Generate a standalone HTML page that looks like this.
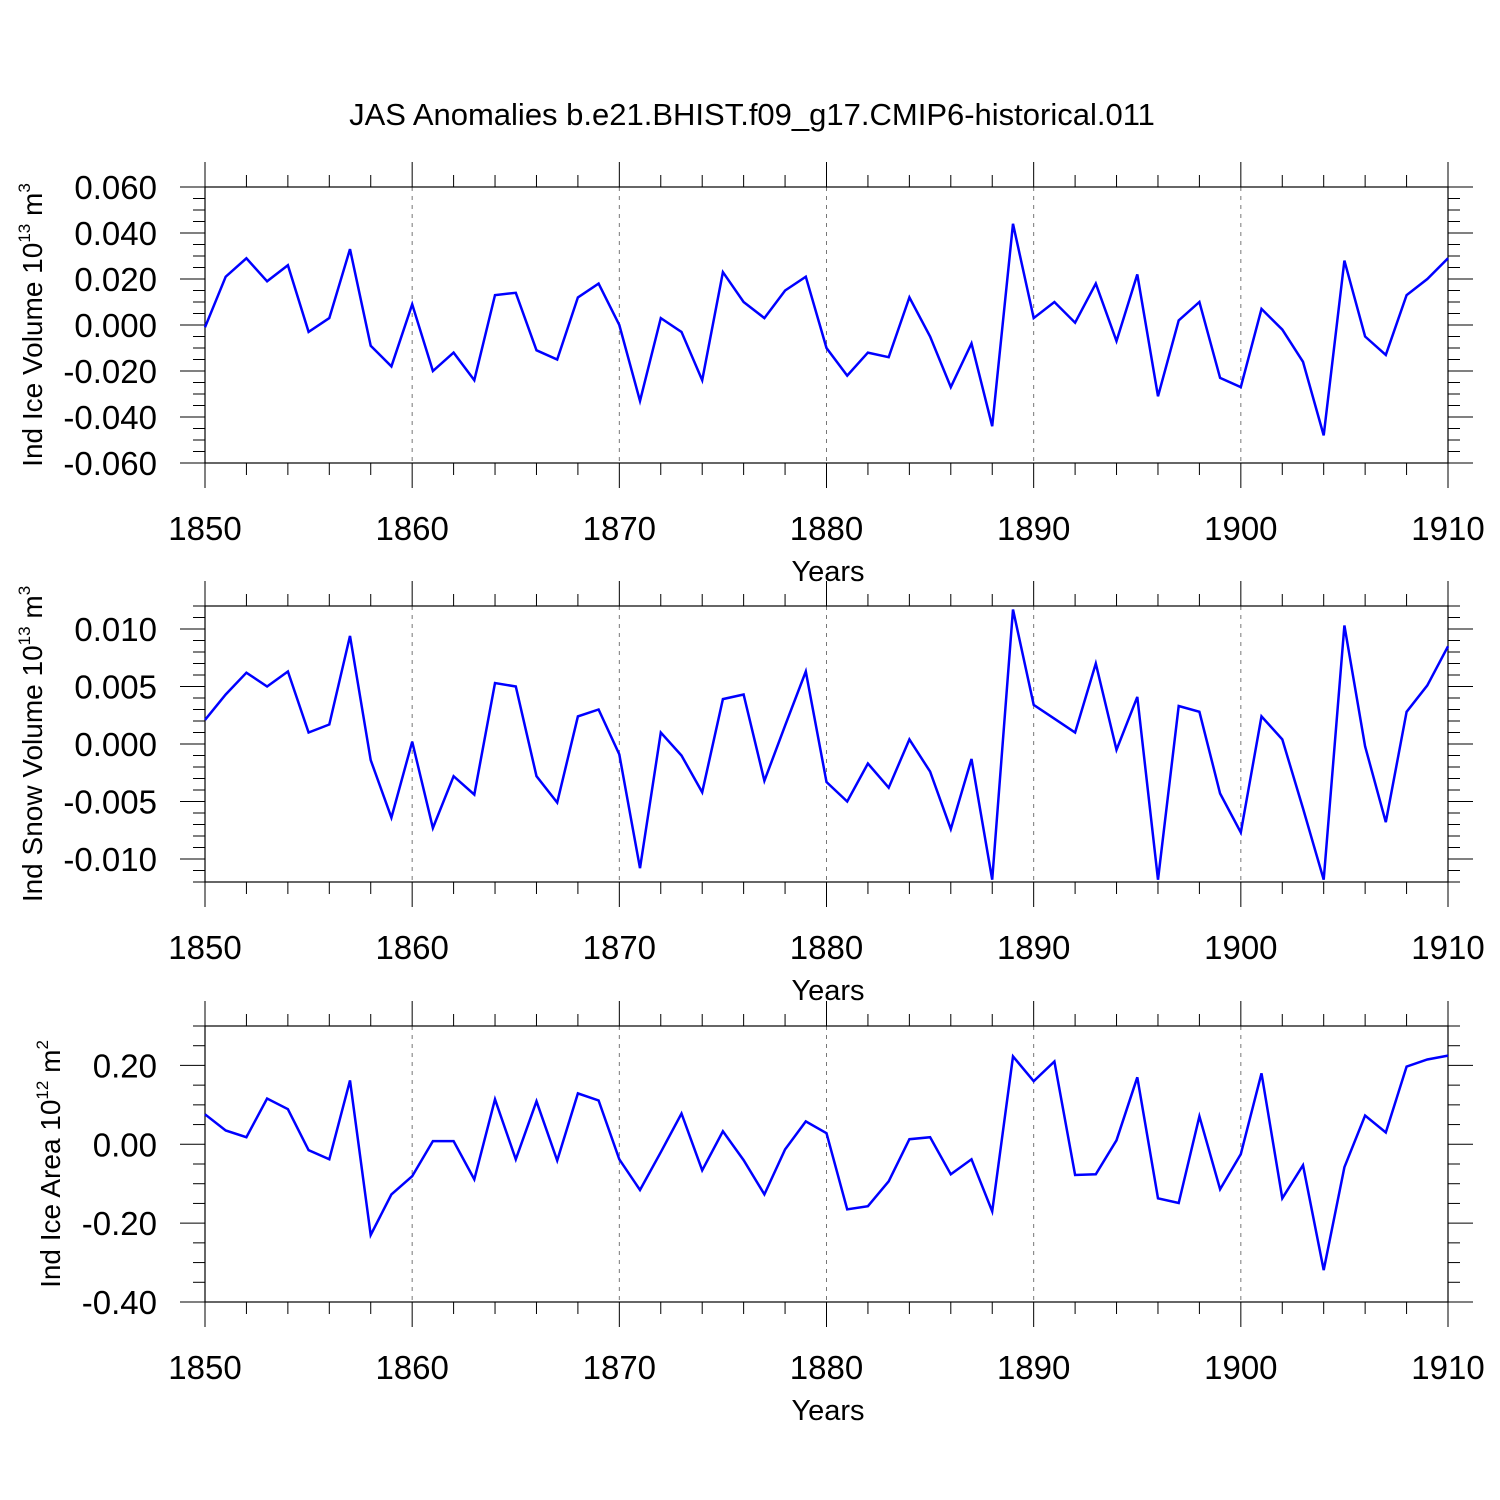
<!DOCTYPE html>
<html><head><meta charset="utf-8"><style>
html,body{margin:0;padding:0;background:#fff;}
svg{display:block;font-family:"Liberation Sans",sans-serif;}
</style></head><body>
<svg id="chart" width="1500" height="1500" viewBox="0 0 1500 1500" xmlns="http://www.w3.org/2000/svg">
<rect width="1500" height="1500" fill="#fff"/>
<text x="752" y="125" font-size="31" text-anchor="middle">JAS Anomalies b.e21.BHIST.f09_g17.CMIP6-historical.011</text>
</svg>
<script>
const years = [];
for (let y = 1850; y <= 1910; y++) years.push(y);
const iceVolume = [-0.001,0.021,0.029,0.019,0.026,-0.003,0.003,0.033,-0.009,-0.018,0.009,-0.020,-0.012,-0.024,0.013,0.014,-0.011,-0.015,0.012,0.018,0.000,-0.033,0.003,-0.003,-0.024,0.023,0.010,0.003,0.015,0.021,-0.010,-0.022,-0.012,-0.014,0.012,-0.005,-0.027,-0.008,-0.044,0.044,0.003,0.010,0.001,0.018,-0.007,0.022,-0.031,0.002,0.010,-0.023,-0.027,0.007,-0.002,-0.016,-0.048,0.028,-0.005,-0.013,0.013,0.020,0.029];
const snowVolume = [0.0021,0.0043,0.0062,0.0050,0.0063,0.0010,0.0017,0.0094,-0.0014,-0.0064,0.0002,-0.0073,-0.0028,-0.0044,0.0053,0.0050,-0.0028,-0.0051,0.0024,0.0030,-0.0009,-0.0108,0.0010,-0.0010,-0.0042,0.0039,0.0043,-0.0032,0.0016,0.0063,-0.0033,-0.0050,-0.0017,-0.0038,0.0004,-0.0024,-0.0074,-0.0013,-0.0118,0.0117,0.0034,0.0022,0.0010,0.0070,-0.0005,0.0041,-0.0118,0.0033,0.0028,-0.0043,-0.0077,0.0024,0.0004,-0.0056,-0.0118,0.0103,-0.0002,-0.0068,0.0028,0.0051,0.0085];
const iceArea = [0.076,0.035,0.018,0.116,0.089,-0.015,-0.038,0.162,-0.230,-0.127,-0.081,0.008,0.008,-0.089,0.114,-0.038,0.109,-0.041,0.129,0.111,-0.038,-0.116,-0.020,0.078,-0.066,0.033,-0.040,-0.127,-0.013,0.058,0.028,-0.165,-0.157,-0.094,0.013,0.018,-0.076,-0.038,-0.170,0.223,0.160,0.210,-0.078,-0.076,0.010,0.170,-0.137,-0.149,0.071,-0.114,-0.025,0.180,-0.137,-0.053,-0.319,-0.058,0.073,0.030,0.197,0.215,0.225];
const xTickLabels = ["1850","1860","1870","1880","1890","1900","1910"];
const iceVolTicks = ["-0.060","-0.040","-0.020","0.000","0.020","0.040","0.060"];
const snowVolTicks = ["-0.010","-0.005","0.000","0.005","0.010"];
const iceAreaTicks = ["-0.40","-0.20","0.00","0.20"];

const NS = "http://www.w3.org/2000/svg";
const svg = document.getElementById('chart');
function mk(tag, attrs, parent) {
  const e = document.createElementNS(NS, tag);
  for (const k in attrs) e.setAttribute(k, attrs[k]);
  (parent || svg).appendChild(e);
  return e;
}
const X0 = 205, X1 = 1448;
const xScale = yr => X0 + (yr - 1850) / 60 * (X1 - X0);

function panel(opts) {
  const g = mk('g', {});
  
  
  const top = opts.top, bot = opts.top + 276;
  const yScale = v => bot - (v - opts.min) / (opts.max - opts.min) * (bot - top);
  for (let yr = 1860; yr <= 1900; yr += 10) {
    const l = mk('line', {x1: xScale(yr), x2: xScale(yr), y1: top, y2: bot, stroke: '#777', 'stroke-width': 1, 'stroke-dasharray': '4,5'}, g);
    
    
  }
  for (let yr = 1850; yr <= 1910; yr += 2) {
    const major = (yr - 1850) % 10 === 0;
    const len = major ? 25 : 12;
    mk('line', {x1: xScale(yr), x2: xScale(yr), y1: top, y2: top - len, stroke: '#000', 'stroke-width': 1}, g);
    mk('line', {x1: xScale(yr), x2: xScale(yr), y1: bot, y2: bot + len, stroke: '#000', 'stroke-width': 1}, g);
  }
  xTickLabels.forEach(t => {
    const tx = mk('text', {x: xScale(+t), y: bot + 77, 'font-size': 33, 'text-anchor': 'middle'}, g);
    tx.textContent = t;
    
    
  });
  const nMinor = Math.round((opts.max - opts.min) / opts.minor);
  for (let i = 0; i <= nMinor; i++) {
    const v = opts.min + i * opts.minor;
    const rem = Math.abs((v - opts.majorBase) / opts.major - Math.round((v - opts.majorBase) / opts.major));
    const major = rem < 1e-6;
    const len = major ? 25 : 12;
    const y = yScale(v);
    mk('line', {x1: X0, x2: X0 - len, y1: y, y2: y, stroke: '#000', 'stroke-width': 1}, g);
    mk('line', {x1: X1, x2: X1 + len, y1: y, y2: y, stroke: '#000', 'stroke-width': 1}, g);
  }
  opts.ticks.forEach(t => {
    const tx = mk('text', {x: 157, y: yScale(+t) + 12, 'font-size': 33, 'text-anchor': 'end'}, g);
    tx.textContent = t;
    
    
  });
  const fr = mk('rect', {x: X0, y: top, width: X1 - X0, height: bot - top, fill: 'none', stroke: '#000', 'stroke-width': 1.2}, g);
  
  
  const pts = opts.data.map((v, i) => xScale(years[i]).toFixed(1) + ',' + yScale(v).toFixed(1)).join(' ');
  const pl = mk('polyline', {points: pts, fill: 'none', stroke: '#0000ff', 'stroke-width': 2.5, 'stroke-linejoin': 'miter'}, g);
  
  
  const xt = mk('text', {x: 828, y: bot + 118, 'font-size': 29, 'text-anchor': 'middle'}, g);
  xt.textContent = 'Years';
  
  
  const cy = (top + bot) / 2;
  const yt = mk('text', {x: 0, y: 0, 'font-size': 28, 'text-anchor': 'middle', transform: `translate(${opts.titleX},${cy}) rotate(-90)`}, g);
  
  
  const s1 = mk('tspan', {}, yt); s1.textContent = opts.title + ' 10';
  const s2 = mk('tspan', {dy: -12, 'font-size': 17}, yt); s2.textContent = opts.exp;
  const s3 = mk('tspan', {dy: 12}, yt); s3.textContent = ' m';
  const s4 = mk('tspan', {dy: -12, 'font-size': 17}, yt); s4.textContent = opts.unitExp;
}
panel({name: 'ice-volume-panel', top: 187, min: -0.06, max: 0.06, minor: 0.005, major: 0.02, majorBase: 0, ticks: iceVolTicks, data: iceVolume, title: 'Ind Ice Volume', exp: '13', unitExp: '3', titleX: 42});
panel({name: 'snow-volume-panel', top: 606, min: -0.012, max: 0.012, minor: 0.001, major: 0.005, majorBase: 0, ticks: snowVolTicks, data: snowVolume, title: 'Ind Snow Volume', exp: '13', unitExp: '3', titleX: 42});
panel({name: 'ice-area-panel', top: 1026, min: -0.4, max: 0.3, minor: 0.05, major: 0.2, majorBase: 0, ticks: iceAreaTicks, data: iceArea, title: 'Ind Ice Area', exp: '12', unitExp: '2', titleX: 60});
</script>
</body></html>
